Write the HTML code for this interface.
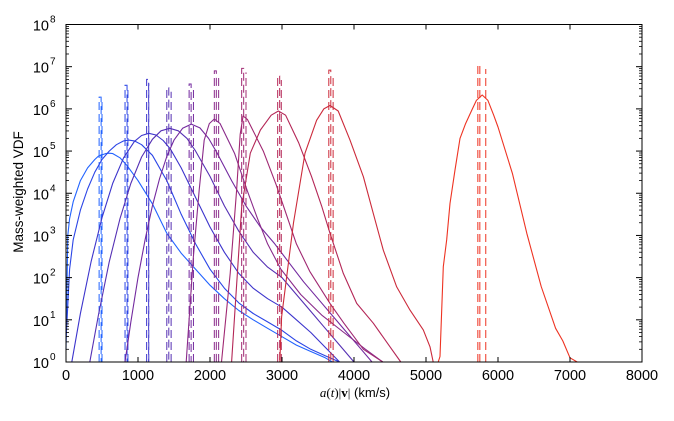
<!DOCTYPE html>
<html><head><meta charset="utf-8">
<style>
body{margin:0;background:#fff;}
svg{display:block;font-family:"Liberation Sans","DejaVu Sans",sans-serif;}
</style></head>
<body>
<svg id="chart" width="674" height="421" viewBox="0 0 674 421" xmlns="http://www.w3.org/2000/svg">
<rect width="674" height="421" fill="#fff"/>
<g id="series"></g>
<g id="axes"></g>
<text x="355" y="397" text-anchor="middle" font-size="13" fill="#000"><tspan font-family="Liberation Serif,serif" font-style="italic">a</tspan><tspan font-family="Liberation Serif,serif">(</tspan><tspan font-family="Liberation Serif,serif" font-style="italic">t</tspan><tspan font-family="Liberation Serif,serif">)|</tspan><tspan font-family="Liberation Serif,serif" font-weight="bold">v</tspan><tspan font-family="Liberation Serif,serif">|</tspan> (km/s)</text>
<text transform="translate(23,192) rotate(-90)" text-anchor="middle" font-size="13.5" fill="#000">Mass-weighted VDF</text>
</svg>
<script>
const xTicks = [0,1000,2000,3000,4000,5000,6000,7000,8000];
const yDecades = [0,1,2,3,4,5,6,7,8];
const colors = ["#2263ff","#2b45e6","#3c34cc","#5530b4","#73299f","#8a2a8a","#a02872","#b42656","#cc2a3a","#ee3322"];
const v1=[0,25,50,100,200,300,400,450,550,600,650,750,850,1000,1200,1400,1600,1800,2000,2200,2400,2600,2800,3000,3200,3400,3600,3700];
const l1=[0.3,3.0,3.4,3.8,4.3,4.6,4.8,4.88,4.94,4.95,4.94,4.84,4.65,4.3,3.75,3.05,2.58,2.2,1.82,1.5,1.22,1.0,0.8,0.6,0.4,0.25,0.1,0];
const v2=[0,50,100,200,300,400,500,600,700,800,870,950,1050,1200,1400,1600,1800,2000,2200,2400,2600,2800,3000,3200,3400,3600,3800];
const l2=[0.5,2.2,2.9,3.6,4.1,4.5,4.8,5.0,5.15,5.24,5.26,5.24,5.15,4.9,4.3,3.5,2.8,2.2,1.75,1.4,1.15,0.95,0.75,0.5,0.3,0.15,0];
const v3=[80,200,350,500,650,800,950,1050,1150,1250,1350,1450,1600,1800,2000,2200,2400,2600,2800,3000,3200,3400,3600,3800];
const l3=[0,1.15,2.39,3.42,4.24,4.84,5.23,5.37,5.42,5.38,5.25,5.05,4.6,3.9,3.2,2.6,2.1,1.75,1.5,1.3,1.0,0.7,0.35,0];
const v4=[330,450,600,750,900,1050,1200,1320,1440,1560,1680,1800,2000,2200,2400,2600,2800,3000,3200,3400,3600,3800,4000];
const l4=[0,1.11,2.37,3.4,4.23,4.86,5.28,5.48,5.54,5.48,5.3,5.0,4.4,3.7,3.1,2.6,2.25,2.0,1.6,1.2,0.8,0.4,0];
const v5=[820,900,1000,1100,1200,1300,1400,1500,1620,1740,1860,1980,2100,2300,2500,2700,2900,3100,3300,3500,3700,3900,4100,4250];
const l5=[0,0.94,2.0,2.91,3.7,4.35,4.87,5.26,5.54,5.64,5.55,5.3,4.95,4.3,3.7,3.2,2.8,2.35,1.9,1.5,1.1,0.7,0.3,0];
const v6=[1670,1770,1850,1920,1990,2060,2140,2340,2520,2660,2800,2985,3260,3560,3860,4160,4400];
const l6=[0,2.5,4.08,5.26,5.65,5.76,5.65,4.95,4.05,3.4,2.8,2.2,1.6,1.1,0.7,0.3,0];
const v7=[2160,2280,2370,2420,2460,2520,2740,2920,3060,3200,3385,3667,3860,4130,4400];
const l7=[0,2.1,4.07,5.4,5.83,5.75,5.0,4.2,3.5,2.8,2.15,1.39,0.92,0.3,0];
const v8=[2300,2440,2560,2700,2850,2950,3050,3230,3410,3550,3667,3852,4037,4268,4500,4650];
const l8=[0,3.68,4.95,5.5,5.85,5.95,5.85,5.2,4.4,3.7,3.05,2.1,1.39,0.92,0.36,0];
const v9=[2970,2995,3160,3320,3480,3580,3667,3780,3944,4130,4268,4407,4593,4778,4963,5055,5100];
const l9=[0,1.07,3.3,4.95,5.73,6.0,6.08,5.95,5.26,4.39,3.52,2.65,1.78,1.23,0.76,0.36,0];
const v10=[5170,5194,5240,5287,5333,5403,5472,5550,5630,5700,5780,5860,5940,6000,6200,6400,6600,6800,6900,7000,7100];
const l10=[0,0.13,2.26,2.9,3.76,4.55,5.3,5.65,5.95,6.2,6.33,6.2,5.85,5.57,4.47,3.05,1.79,0.8,0.5,0.1,0];
const curveV=[v1,v2,v3,v4,v5,v6,v7,v8,v9,v10];
const curveL=[l1,l2,l3,l4,l5,l6,l7,l8,l9,l10];
const spikeA=[460,820,1120,1400,1710,2060,2440,2940,3650,5720];
const spikeB=[500,860,1150,1460,1770,2120,2500,2990,3710,5830];
const spikeTop=[6.28,6.56,6.7,6.5,6.59,6.9,6.96,6.78,6.92,7.04];

const X0=66,X1=642,Y0=362,Y1=24.5;
const xs=v=>X0+(v/8000)*(X1-X0);
const ys=l=>Y0-(l/8)*(Y0-Y1);
const NS="http://www.w3.org/2000/svg";
const sg=document.getElementById('series'), ag=document.getElementById('axes');
function mk(tag,attrs,parent){const e=document.createElementNS(NS,tag);for(const k in attrs)e.setAttribute(k,attrs[k]);parent.appendChild(e);return e;}

for(let i=0;i<curveV.length;i++){
  let d='';
  for(let j=0;j<curveV[i].length;j++){d+=(j?'L':'M')+xs(curveV[i][j]).toFixed(1)+','+ys(curveL[i][j]).toFixed(1);}
  const p=mk('path',{d:d,fill:'none',stroke:colors[i],'stroke-width':1.1,'stroke-linejoin':'round'},sg);
  
  
  const a=xs(spikeA[i]),b=xs(spikeB[i]),t=ys(spikeTop[i]);
  const s=mk('path',{d:`M${a},${Y0}V${t}H${a+2}V${Y0}M${b},${Y0}V${t+4}`,fill:'none',stroke:colors[i],'stroke-width':1,'stroke-dasharray':'8,4'},sg);
  
  
}

const frame=mk('rect',{x:X0,y:Y1,width:X1-X0,height:Y0-Y1,fill:'none',stroke:'#000','stroke-width':1},ag);


xTicks.forEach(v=>{
  const x=xs(v);
  mk('line',{x1:x,x2:x,y1:Y0,y2:Y0-5,stroke:'#000'},ag);
  mk('line',{x1:x,x2:x,y1:Y1,y2:Y1+5,stroke:'#000'},ag);
  const t=mk('text',{x:x,y:Y0+18,'text-anchor':'middle','font-size':14.5,fill:'#000'},ag);
  t.textContent=v;
  
  
});
yDecades.forEach(l=>{
  const y=ys(l);
  mk('line',{x1:X0,x2:X0+6,y1:y,y2:y,stroke:'#000'},ag);
  mk('line',{x1:X1,x2:X1-6,y1:y,y2:y,stroke:'#000'},ag);
  if(l<8){for(let m=2;m<10;m++){const yy=ys(l+Math.log10(m));
    mk('line',{x1:X0,x2:X0+3,y1:yy,y2:yy,stroke:'#000','stroke-width':0.8},ag);
    mk('line',{x1:X1,x2:X1-3,y1:yy,y2:yy,stroke:'#000','stroke-width':0.8},ag);}}
  const t=mk('text',{x:X0-17,y:y+6,'text-anchor':'end','font-size':14.5,fill:'#000'},ag);
  t.textContent='10';
  
  
  const s=mk('text',{x:X0-16,y:y-2,'font-size':10,fill:'#000'},ag);
  s.textContent=l;
  
  
});
</script>
</body></html>
